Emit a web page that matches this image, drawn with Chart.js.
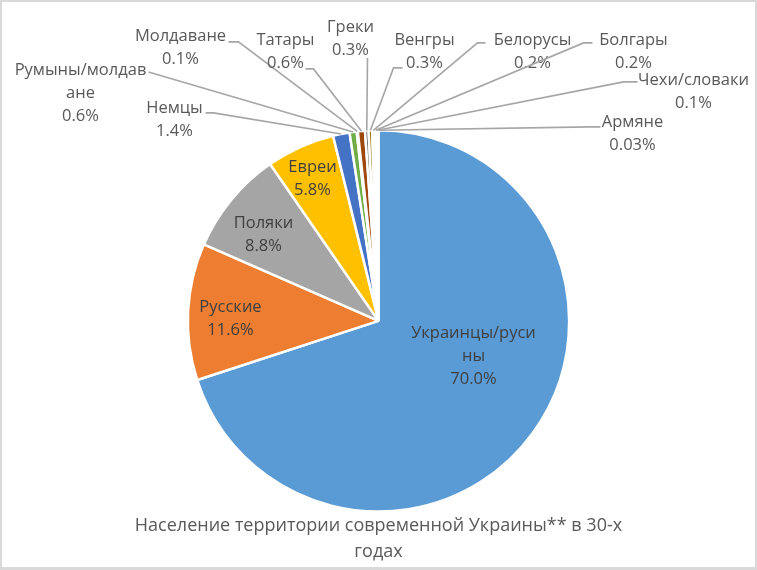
<!DOCTYPE html>
<html>
<head>
<meta charset="utf-8">
<script src="https://cdn.jsdelivr.net/npm/chart.js@4.4.0/dist/chart.umd.min.js"></script>
<style>
  html, body { margin: 0; padding: 0; background: #ffffff; }
  #wrap { width: 757px; height: 570px; }
</style>
</head>
<body>
<div id="wrap"><canvas id="c" width="757" height="570"></canvas></div>
<script>
// ---- data ----
const categories = [
  'Украинцы/русины', 'Русские', 'Поляки', 'Евреи', 'Немцы',
  'Румыны/молдаване', 'Молдаване', 'Татары', 'Греки', 'Венгры',
  'Белорусы', 'Болгары', 'Чехи/словаки', 'Армяне'
];
const shares = [70.0, 11.6, 8.8, 5.8, 1.4, 0.6, 0.1, 0.6, 0.3, 0.3, 0.2, 0.2, 0.1, 0.03];
const sliceColors = [
  '#5B9BD5', '#ED7D31', '#A5A5A5', '#FFC000', '#4472C4', '#70AD47', '#255E91',
  '#9E480E', '#636363', '#997300', '#264478', '#43682B', '#7CAFDD', '#F1975A'
];
const titleLines = ['Население территории современной Украины** в 30-х', 'годах'];

// ---- label layout (relative to pie centre) ----
// inside: text centre; outside: text centre + leader attach point and stub
const labelLayout = [
  { inside: true, dx: 95, dy: 12, wrap: 13 },
  { inside: true, dx: -148, dy: -14 },
  { inside: true, dx: -115, dy: -98 },
  { inside: true, dx: -66, dy: -154 },
  { dx: -204, dy: -213, ax: -173, ay: -208, stub: 8 },
  { dx: -298, dy: -251, ax: -230, ay: -249, stub: 0, wrap: 13 },
  { dx: -198, dy: -285, ax: -150, ay: -279, stub: 10 },
  { dx: -93, dy: -281, ax: -73, ay: -252, stub: 8 },
  { dx: -28, dy: -294, ax: -11, ay: -263, stub: 0 },
  { dx: 46, dy: -281, ax: 24, ay: -253, stub: -9 },
  { dx: 154, dy: -281, ax: 107, ay: -278, stub: -8 },
  { dx: 255, dy: -281, ax: 214, ay: -278, stub: -9 },
  { dx: 315, dy: -241, ax: 259, ay: -239, stub: -14 },
  { dx: 254, dy: -199, ax: 222, ay: -194, stub: -10 }
];

const FONT = '"Open Sans", "Noto Sans", sans-serif';

function fmtPct(v) {
  return (v >= 0.1 ? v.toFixed(1) : v.toFixed(2)) + '%';
}

const framePlugin = {
  id: 'frame',
  beforeDraw(chart) {
    const ctx = chart.ctx;
    ctx.save();
    ctx.fillStyle = '#d9d9d9';
    ctx.fillRect(0, 0, chart.width, chart.height);
    ctx.fillStyle = '#ffffff';
    ctx.fillRect(2, 2, chart.width - 4, chart.height - 5);
    ctx.restore();
  }
};

const labelPlugin = {
  id: 'pieLabels',
  afterDatasetsDraw(chart) {
    const ctx = chart.ctx;
    const meta = chart.getDatasetMeta(0);
    const lineH = 23;
    ctx.save();
    ctx.font = '16.5px ' + FONT;
    ctx.textAlign = 'center';
    ctx.textBaseline = 'middle';
    meta.data.forEach((arc, i) => {
      const p = arc.getProps(['x', 'y', 'startAngle', 'endAngle', 'outerRadius'], true);
      const L = labelLayout[i];
      const name = categories[i];
      const lines = [];
      if (L.wrap && name.length > L.wrap) {
        lines.push(name.slice(0, L.wrap), name.slice(L.wrap));
      } else {
        lines.push(name);
      }
      lines.push(fmtPct(shares[i]));
      if (!L.inside) {
        const mid = (p.startAngle + p.endAngle) / 2;
        const ox = p.x + Math.cos(mid) * p.outerRadius;
        const oy = p.y + Math.sin(mid) * p.outerRadius;
        const ax = p.x + L.ax, ay = p.y + L.ay;
        ctx.strokeStyle = '#a6a6a6';
        ctx.lineWidth = 1.6;
        ctx.beginPath();
        ctx.moveTo(ox, oy);
        ctx.lineTo(ax + L.stub, ay);
        ctx.lineTo(ax, ay);
        ctx.stroke();
      }
      ctx.fillStyle = L.inside ? '#404040' : '#595959';
      lines.forEach((t, k) => {
        ctx.fillText(t, p.x + L.dx, p.y + L.dy + k * lineH);
      });
    });
    ctx.restore();
  }
};

new Chart(document.getElementById('c'), {
  type: 'pie',
  data: {
    labels: categories,
    datasets: [{
      data: shares,
      backgroundColor: sliceColors,
      borderColor: '#ffffff',
      borderWidth: 2.5
    }]
  },
  options: {
    responsive: false,
    animation: false,
    layout: { padding: { top: 129, bottom: 0, left: 0, right: 0 } },
    plugins: {
      legend: { display: false },
      tooltip: { enabled: false },
      title: {
        display: true,
        position: 'bottom',
        text: titleLines,
        color: '#595959',
        font: { family: FONT, size: 18, weight: 'normal', lineHeight: 1.45 },
        padding: { top: 0, bottom: 5 }
      }
    }
  },
  plugins: [framePlugin, labelPlugin]
});
</script>
</body>
</html>
